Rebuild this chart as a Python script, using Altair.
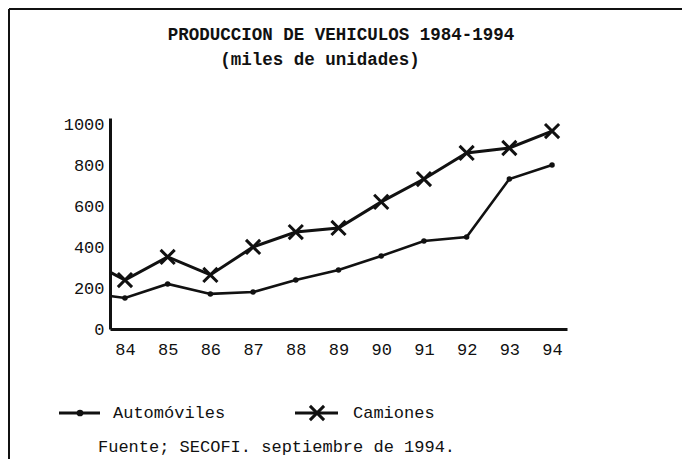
import altair as alt
import pandas as pd

# ---- data ----
years = [84, 85, 86, 87, 88, 89, 90, 91, 92, 93, 94]
automoviles = [152, 221, 172, 181, 240, 289, 358, 431, 451, 735, 804]
camiones = [240, 353, 265, 402, 475, 495, 623, 735, 863, 887, 970]
# value where each line leaves the y axis (left edge of the plot)
axis_year = 83.65
automoviles_inicio = 162
camiones_inicio = 279
y_ticks = [0, 200, 400, 600, 800, 1000]

title_text = "PRODUCCION DE VEHICULOS 1984-1994"
subtitle_text = "(miles de unidades)"
source_text = "Fuente; SECOFI. septiembre de 1994."
series_names = ["Automóviles", "Camiones"]

FONT = "Liberation Mono"
INK = "#111111"

rows = []
rows.append({"year": axis_year, "v": automoviles_inicio, "s": series_names[0], "o": 0})
rows.append({"year": axis_year, "v": camiones_inicio, "s": series_names[1], "o": 0})
for i, y in enumerate(years):
    rows.append({"year": y, "v": automoviles[i], "s": series_names[0], "o": i + 1})
    rows.append({"year": y, "v": camiones[i], "s": series_names[1], "o": i + 1})
df = pd.DataFrame(rows)
pts = df[df["o"] > 0]

W, H = 457, 211
xs = alt.Scale(domain=[83.65, 94.35], nice=False, zero=False)
ys = alt.Scale(domain=[0, 1034], nice=False)

X_PATH = "M-1,-1L1,1M1,-1L-1,1"

base = alt.Chart(df)

auto_line = base.transform_filter(alt.datum.s == series_names[0]).mark_line(
    color=INK, strokeWidth=2.6
).encode(
    x=alt.X("year:Q", scale=xs, axis=alt.Axis(
        values=years, format="d", title=None, grid=False, ticks=False,
        domainColor=INK, domainWidth=3, labelFont=FONT, labelFontSize=17,
        labelColor=INK, labelPadding=12)),
    y=alt.Y("v:Q", scale=ys, axis=alt.Axis(
        values=y_ticks, format="d", title=None, grid=False, ticks=False,
        domainColor=INK, domainWidth=3, labelFont=FONT, labelFontSize=17,
        labelColor=INK, labelPadding=6)),
    order="o:Q",
)

cam_line = base.transform_filter(alt.datum.s == series_names[1]).mark_line(
    color=INK, strokeWidth=3
).encode(x=alt.X("year:Q", scale=xs), y=alt.Y("v:Q", scale=ys), order="o:Q")

auto_pts = alt.Chart(pts).transform_filter(alt.datum.s == series_names[0]).mark_circle(
    color=INK, size=30, opacity=1
).encode(x=alt.X("year:Q", scale=xs), y=alt.Y("v:Q", scale=ys))

cam_pts = alt.Chart(pts).transform_filter(alt.datum.s == series_names[1]).mark_point(
    shape=X_PATH, color=INK, size=200, strokeWidth=3, opacity=1
).encode(x=alt.X("year:Q", scale=xs), y=alt.Y("v:Q", scale=ys))

one = pd.DataFrame({"t": [""]})

def txt(text, x, y, size=17, bold=False, align="left"):
    return alt.Chart(pd.DataFrame({"t": [text]})).mark_text(
        font=FONT, fontSize=size, fontWeight="bold" if bold else "normal",
        color=INK, align=align, baseline="middle"
    ).encode(x=alt.value(x), y=alt.value(y), text="t:N")

title = txt(title_text, 231, -83, size=17.5, bold=True, align="center")
subtitle = txt(subtitle_text, 210, -58, size=17.5, bold=True, align="center")
source = txt(source_text, -12, 329, size=17, align="left")
leg_a_txt = txt(series_names[0], 3, 295)
leg_c_txt = txt(series_names[1], 243, 295)

leg_a_line = alt.Chart(one).mark_rule(color=INK, strokeWidth=3).encode(
    x=alt.value(-51), x2=alt.value(-10), y=alt.value(295))
leg_a_dot = alt.Chart(one).mark_circle(color=INK, size=45, opacity=1).encode(
    x=alt.value(-30), y=alt.value(295))
leg_c_line = alt.Chart(one).mark_rule(color=INK, strokeWidth=3).encode(
    x=alt.value(185), x2=alt.value(228), y=alt.value(295))
leg_c_x = alt.Chart(one).mark_point(shape=X_PATH, color=INK, size=200, strokeWidth=3, opacity=1).encode(
    x=alt.value(207), y=alt.value(295))

frame_top = alt.Chart(one).mark_rule(color=INK, strokeWidth=2).encode(
    x=alt.value(-101), x2=alt.value(600), y=alt.value(-109))
frame_left = alt.Chart(one).mark_rule(color=INK, strokeWidth=2).encode(
    x=alt.value(-101), y=alt.value(-109), y2=alt.value(400))

chart = alt.layer(
    auto_line, cam_line, auto_pts, cam_pts,
    title, subtitle, source,
    leg_a_line, leg_a_dot, leg_a_txt, leg_c_line, leg_c_x, leg_c_txt,
    frame_top, frame_left,
).properties(
    width=W, height=H,
    autosize=alt.AutoSizeParams(type="none"),
    padding={"left": 102, "top": 110, "right": 115, "bottom": 130},
    background="white",
).configure_view(stroke=None)

chart.save("out.html", embed_options={"renderer": "svg", "actions": False})
